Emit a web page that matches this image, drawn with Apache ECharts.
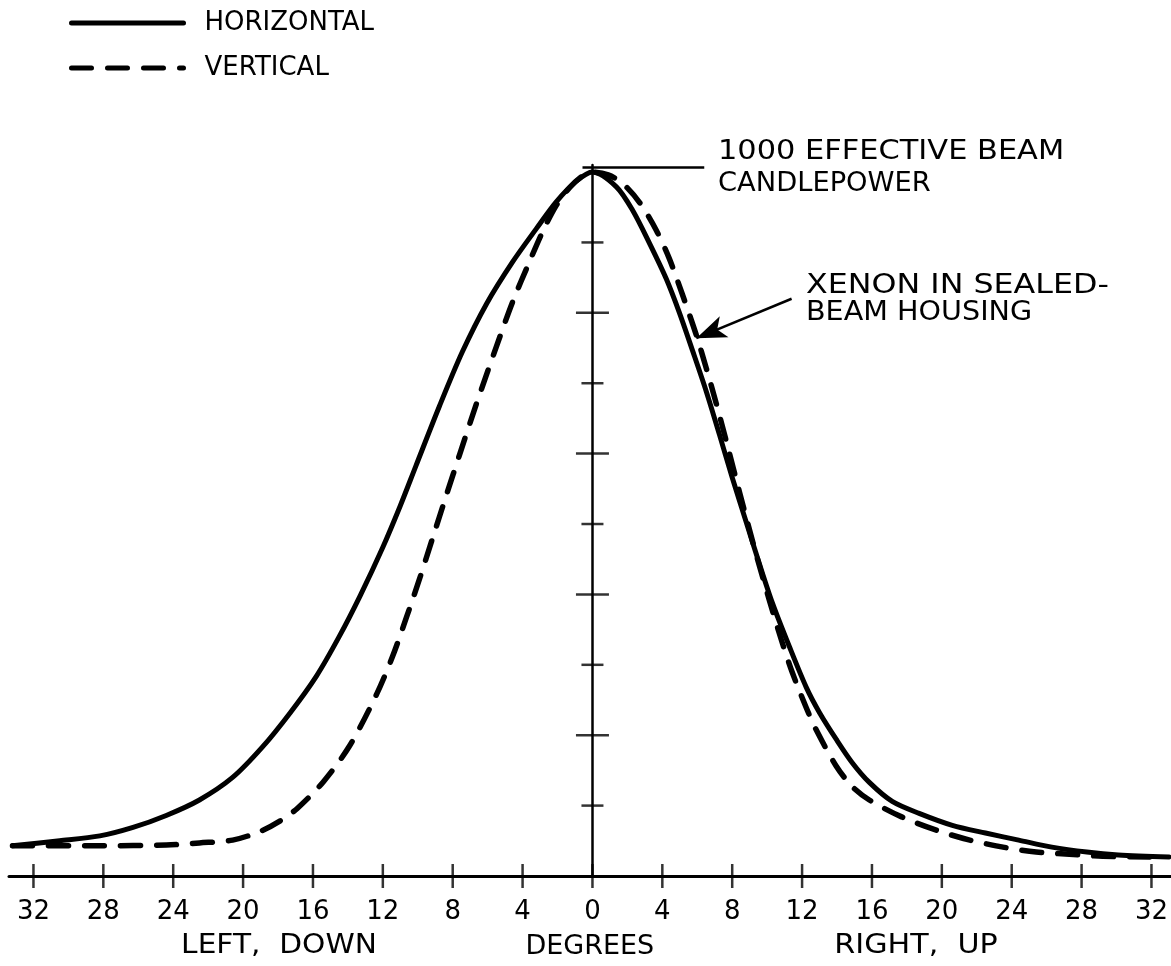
<!DOCTYPE html>
<html>
<head>
<meta charset="utf-8">
<script src="https://cdn.jsdelivr.net/npm/echarts@6/dist/echarts.min.js"></script>
<style>
html,body{margin:0;padding:0;background:#fff;}
#chart{width:1171px;height:966px;}
</style>
</head>
<body>
<div id="chart"></div>
<script>
// Horizontal distribution (solid) – angle in degrees (negative = left/down), candlepower
const hAngles = [-33.2,-30.5,-28.2,-26.3,-24.4,-22.5,-20.6,-18.9,-17.3,-15.8,-14.5,-13.3,-12.0,-11.0,-10.1,-8.75,-7.44,-6.06,-4.58,-3.2,-2.06,-0.92,0,1.37,2.29,3.26,4.23,4.98,5.72,6.52,7.27,8.0,8.8,9.55,10.3,11.27,12.24,13.0,13.96,14.87,15.85,17.16,18.7,20.6,22.5,24.4,26.3,28.3,30.1,33.0];
const hValues = [43,50,57,69,86,108,140,183,232,284,340,398,467,526,583,668,745,813,872,920,958,987,1000,979,946,899,848,800,747,688,627,566,503,444,388,326,268,232,194,161,133,106,89,72,61,51,41,34,30,27];

// Vertical distribution (dashed)
const vAngles = [-33.2,-28.2,-24.4,-22.5,-20.6,-19.05,-17.9,-16.9,-15.4,-13.9,-12.36,-11.44,-10.64,-9.9,-9.15,-8.35,-7.6,-6.64,-5.5,-4.58,-3.6,-2.86,-2.06,-1.3,-0.6,0,0.9,1.72,2.69,3.66,4.4,5.15,5.95,6.52,7.09,7.72,8.41,9.27,10.1,10.87,11.44,12.24,12.8,13.96,14.87,15.85,17.7,19.7,21.6,23.5,25.4,27.3,29.2,32.0];
const vValues = [43,43,44,47,51,63,78,96,134,185,258,312,368,422,480,542,599,671,752,815,873,915,953,978,994,1000,996,984,957,917,877,826,768,721,671,612,546,466,394,331,289,239,208,156,127,108,84,65,51,41,34,31,28,27];

const seriesNames = ['HORIZONTAL','VERTICAL'];
const xTickValues = [-32,-28,-24,-20,-16,-12,-8,-4,0,4,8,12,16,20,24,28,32];
const yTickMajor = [200,400,600,800];
const yTickMinor = [100,300,500,700,900];

// annotation anchor points (data space)
const peakLeader = [[-0.57,1007],[6.4,1007]];
const arrowLine = [[11.4,820],[5.95,764]];

const FONT = '"DejaVu Sans", sans-serif';

const chart = echarts.init(document.getElementById('chart'), null, {renderer:'canvas'});

function zip(a,b){return a.map((x,i)=>[x,b[i]]);}

function gtext(text, x, y, scaleX, align, size){
  return {
    type:'text', x:x, y:y, scaleX:scaleX, silent:true,
    style:{text:text, fill:'#000', font:(size||26)+'px ' + FONT,
      align:align||'left', verticalAlign:'middle',
      textAlign:align||'left', textVerticalAlign:'middle'}
  };
}

const option = {
  backgroundColor:'#fff',
  animation:false,
  grid:{left:9, width:1162, top:165, height:711, containLabel:false},
  legend:{
    data:seriesNames, orient:'vertical', left:69, top:10, padding:0,
    itemWidth:112, itemHeight:14, itemGap:19,
    selectedMode:false,
    itemStyle:{opacity:0},
    lineStyle:{width:5},
    textStyle:{fontSize:26, fontFamily:FONT, color:'#000', padding:[0,0,0,16]}
  },
  xAxis:{
    type:'value', min:-33.4, max:33.1,
    name:'DEGREES', nameLocation:'middle', nameGap:57,
    nameTextStyle:{fontSize:27, fontFamily:FONT, color:'#000'},
    axisLine:{show:true, onZero:true, lineStyle:{color:'#000', width:3}},
    axisTick:{show:false},
    splitLine:{show:false},
    axisLabel:{customValues:xTickValues, formatter:v=>String(Math.abs(v)),
      fontSize:26, fontFamily:FONT, color:'#000', margin:23}
  },
  yAxis:{
    type:'value', min:0, max:1010,
    axisLine:{show:true, onZero:true, lineStyle:{color:'#000', width:2.5}},
    axisTick:{show:false}, axisLabel:{show:false}, splitLine:{show:false}
  },
  series:[
    {
      name:seriesNames[0], type:'line', data:zip(hAngles,hValues),
      smooth:0.3, showSymbol:false, symbol:'none', silent:true,
      lineStyle:{color:'#000', width:5, cap:'round', join:'round'},
      itemStyle:{color:'#000'},
      z:3,
      markLine:{
        silent:true, animation:false,
        label:{show:false},
        lineStyle:{color:'#000', width:2.5, type:'solid'},
        symbol:['none','arrow'],
        symbolSize:30,
        itemStyle:{color:'#000'},
        data:[
          [{coord:peakLeader[0], symbol:'none'},{coord:peakLeader[1], symbol:'none'}],
          [{coord:arrowLine[0], symbol:'none'},{coord:arrowLine[1], symbol:'arrow', symbolSize:[17,30]}]
        ]
      }
    },
    {
      name:seriesNames[1], type:'line', data:zip(vAngles,vValues),
      smooth:0.3, showSymbol:false, symbol:'none', silent:true,
      lineStyle:{color:'#000', width:5.5, type:[20,16], cap:'round', join:'round'},
      itemStyle:{color:'#000'},
      z:3
    },
    {
      type:'scatter', data:xTickValues.map(v=>[v,0]), symbol:'rect',
      symbolSize:[2.5,24], itemStyle:{color:'#000'}, silent:true, clip:false, z:4
    },
    {
      type:'scatter', data:yTickMajor.map(v=>[0,v]), symbol:'rect',
      symbolSize:[33,2.5], itemStyle:{color:'#000'}, silent:true, clip:false, z:4
    },
    {
      type:'scatter', data:yTickMinor.map(v=>[0,v]), symbol:'rect',
      symbolSize:[22,2.5], itemStyle:{color:'#000'}, silent:true, clip:false, z:4
    }
  ],
  graphic:[
    gtext('1000 EFFECTIVE BEAM', 718, 152, 1.17),
    gtext('CANDLEPOWER', 718, 184, 1.05),
    gtext('XENON IN SEALED-', 806, 286, 1.22),
    gtext('BEAM HOUSING', 806, 313, 1.10),
    gtext('LEFT,  DOWN', 279, 946, 1.14, 'center'),
    gtext('RIGHT,  UP', 916, 946, 1.16, 'center')
  ]
};
chart.setOption(option);
</script>
</body>
</html>
